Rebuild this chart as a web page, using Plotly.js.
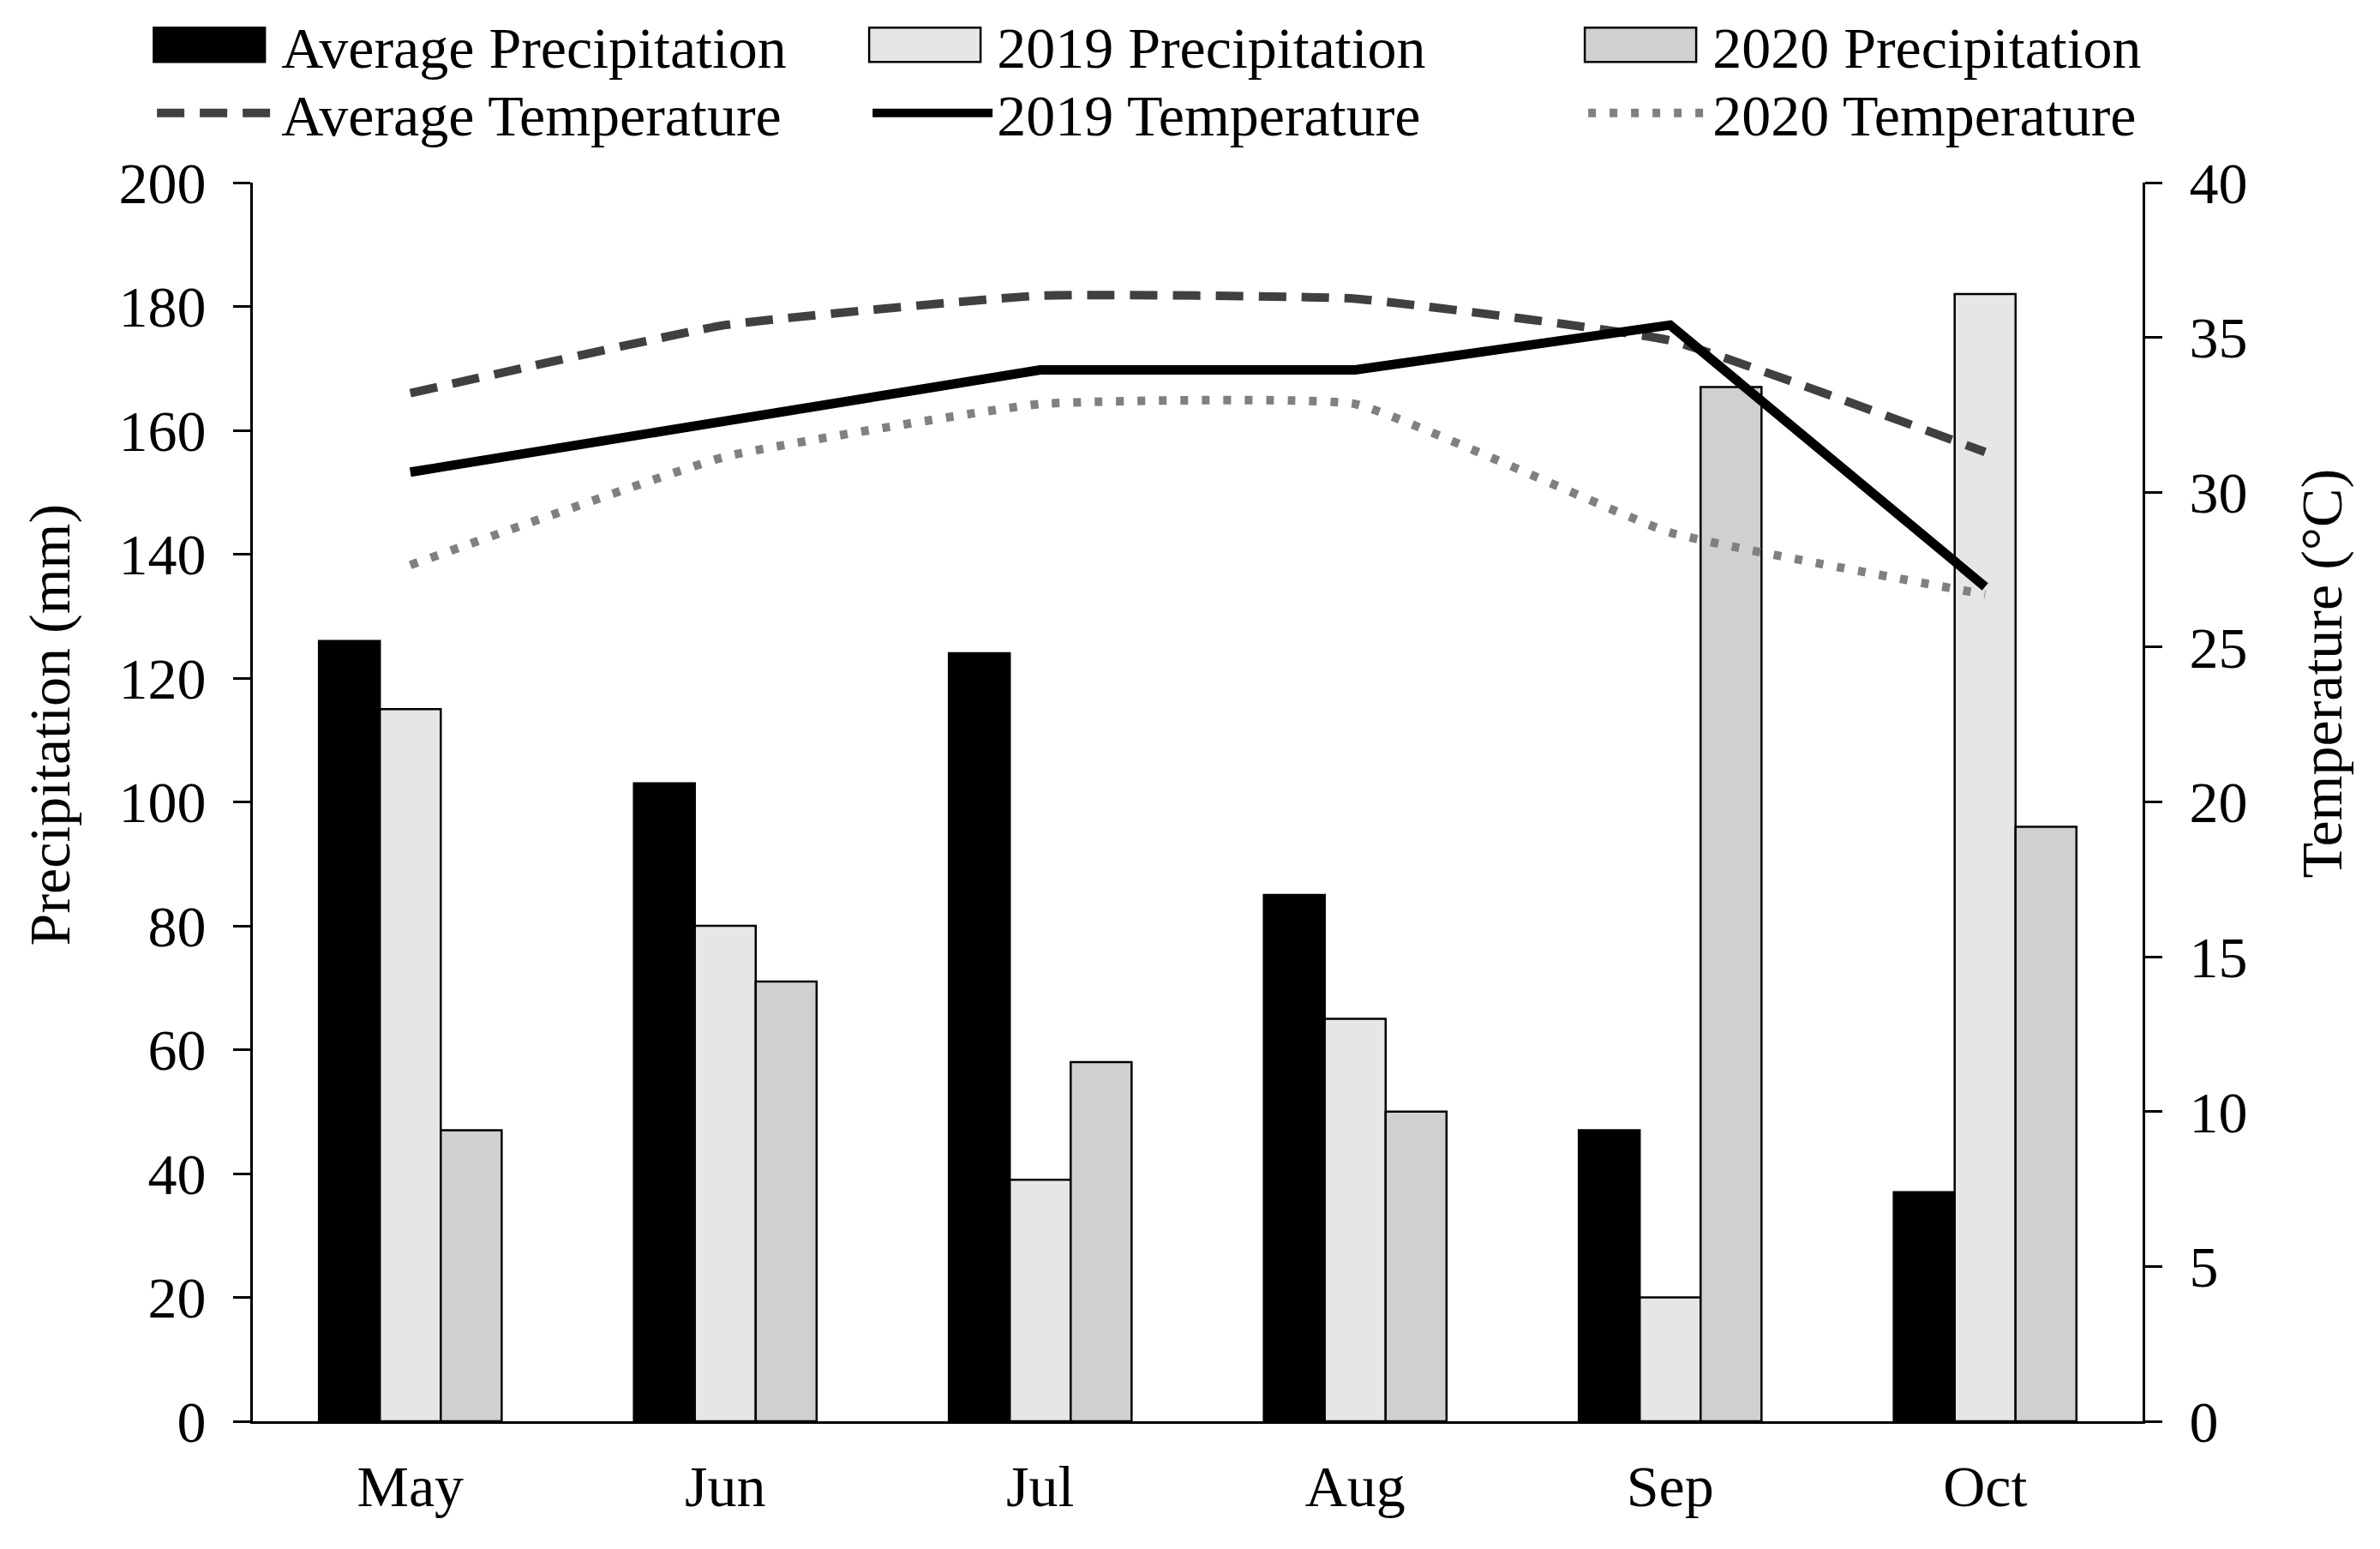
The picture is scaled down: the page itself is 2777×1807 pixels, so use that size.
<!DOCTYPE html>
<html>
<head>
<meta charset="utf-8">
<script src="https://cdn.plot.ly/plotly-3.0.1.min.js"></script>
<style>html,body{margin:0;padding:0;background:#fff;}#chart{width:2777px;height:1807px;}</style>
</head>
<body>
<div id="chart"></div>
<script>
const months = ["May", "Jun", "Jul", "Aug", "Sep", "Oct"];
const avgPrecip = [126, 103, 124, 85, 47, 37];
const precip2019 = [115, 80, 39, 65, 20, 182];
const precip2020 = [47, 71, 58, 50, 167, 96];
const avgTemp = [33.2, 35.4, 36.35, 36.25, 34.9, 31.3];
const temp2019 = [30.65, 32.3, 33.95, 33.95, 35.4, 26.95];
const temp2020 = [27.65, 31.15, 32.85, 32.85, 28.7, 26.7];
const precipTicks = [0, 20, 40, 60, 80, 100, 120, 140, 160, 180, 200];
const tempTicks = [0, 5, 10, 15, 20, 25, 30, 35, 40];

const FONT = "Liberation Serif, Times New Roman, serif";
const FS = 68;

const traces = [
  {type: "bar", name: "Average Precipitation", x: months, y: avgPrecip,
   marker: {color: "#000000", line: {color: "#000000", width: 2.5}}, legend: "legend"},
  {type: "bar", name: "2019 Precipitation", x: months, y: precip2019,
   marker: {color: "#e6e6e6", line: {color: "#000000", width: 2.5}}, legend: "legend"},
  {type: "bar", name: "2020 Precipitation", x: months, y: precip2020, legendwidth: 540,
   marker: {color: "#d0d0ce", line: {color: "#000000", width: 2.5}}, legend: "legend"},
  {type: "scatter", mode: "lines", name: "Average Temperature", x: months, y: avgTemp, yaxis: "y2",
   line: {color: "#404040", width: 10, dash: "32px,18px", shape: "spline", smoothing: 0.35}, legend: "legend2"},
  {type: "scatter", mode: "lines", name: "2019 Temperature", x: months, y: temp2019, yaxis: "y2",
   line: {color: "#000000", width: 11}, legend: "legend2"},
  {type: "scatter", mode: "lines", name: "2020 Temperature", x: months, y: temp2020, yaxis: "y2", legendwidth: 540,
   line: {color: "#808080", width: 10, dash: "9px,16px", shape: "spline", smoothing: 0.35}, legend: "legend2"}
];

const legendCommon = {
  orientation: "h", xanchor: "left", yanchor: "middle", x: -0.053,
  font: {family: FONT, size: FS, color: "#000"}, bgcolor: "rgba(0,0,0,0)",
  itemwidth: 140, entrywidth: 680, entrywidthmode: "pixels", traceorder: "normal",
  itemclick: false
};

const layout = {
  width: 2777, height: 1807,
  paper_bgcolor: "#ffffff", plot_bgcolor: "#ffffff",
  margin: {l: 295, r: 277, t: 213, b: 149, autoexpand: false},
  font: {family: FONT, size: FS, color: "#000"},
  barmode: "group", bargap: 0.42, bargroupgap: 0,
  showlegend: true,
  legend: Object.assign({}, legendCommon, {y: 1.111}),
  legend2: Object.assign({}, legendCommon, {y: 1.056}),
  xaxis: {
    type: "category", range: [-0.5, 5.5], showline: true, linecolor: "#000", linewidth: 3,
    ticks: "", showgrid: false, zeroline: false, ticklabelstandoff: 14,
    tickfont: {family: FONT, size: FS, color: "#000"}
  },
  yaxis: {
    range: [0, 200], tickvals: precipTicks, showline: true, linecolor: "#000", linewidth: 3,
    ticks: "outside", ticklen: 20, tickwidth: 3, tickcolor: "#000", showgrid: false, zeroline: false,
    ticklabelstandoff: 18,
    tickfont: {family: FONT, size: FS, color: "#000"}
  },
  yaxis2: {
    range: [0, 40], tickvals: tempTicks, overlaying: "y", side: "right", showline: true,
    linecolor: "#000", linewidth: 3, ticks: "outside", ticklen: 20, tickwidth: 3, tickcolor: "#000",
    showgrid: false, zeroline: false, ticklabelstandoff: 18,
    tickfont: {family: FONT, size: FS, color: "#000"}
  },
  annotations: [
    {text: "Precipitation (mm)", xref: "paper", yref: "paper", x: -0.1077, y: 0.562,
     xanchor: "center", yanchor: "middle", textangle: -90, showarrow: false,
     font: {family: FONT, size: FS, color: "#000"}},
    {text: "Temperature (°C)", xref: "paper", yref: "paper", x: 1.0946, y: 0.6036,
     xanchor: "center", yanchor: "middle", textangle: -90, showarrow: false,
     font: {family: FONT, size: FS, color: "#000"}}
  ]
};

Plotly.newPlot("chart", traces, layout, {staticPlot: true, displayModeBar: false}).then(function (gd) {
  // widen the bar legend swatches into rectangles like the reference
  gd.querySelectorAll(".legend .legendpoints path").forEach(function (p) {
    const d = p.getAttribute("d") || "";
    if (/^M6,6H-6V-6H6Z$/.test(d)) {
      p.setAttribute("d", "M56,20H-74V-20H56Z");
    }
  });
});
</script>
</body>
</html>
